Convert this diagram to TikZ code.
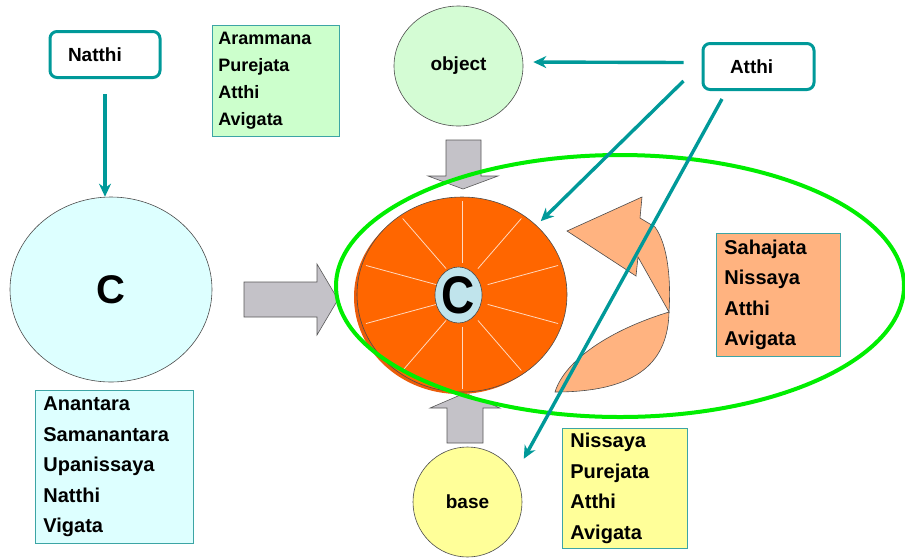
\documentclass[tikz,border=0pt]{standalone}
\usepackage{fontspec}
\setmainfont{Liberation Sans}
\usetikzlibrary{shapes.geometric,arrows.meta,positioning}

\definecolor{linkteal}{RGB}{0,153,153}
\definecolor{boxedge}{RGB}{60,165,165}
\definecolor{greenfill}{RGB}{204,255,204}
\definecolor{objfill}{RGB}{212,252,212}
\definecolor{cyanfill}{RGB}{221,255,255}
\definecolor{yellowfill}{RGB}{255,255,153}
\definecolor{peach}{RGB}{255,179,128}
\definecolor{wheelorange}{RGB}{255,102,0}
\definecolor{wheelshade}{RGB}{235,92,10}
\definecolor{hubfill}{RGB}{192,228,236}
\definecolor{blockgray}{RGB}{196,194,200}
\definecolor{ringgreen}{RGB}{0,238,0}

\begin{document}
\begin{tikzpicture}[x=1pt,y=-1pt,
        termbox/.style={draw=linkteal,line width=3pt,rounded corners=7pt,fill=white,
            align=left,minimum height=46pt,inner ysep=0pt,font=\bfseries\fontsize{19}{22}\selectfont},
        listbox/.style={draw=boxedge,line width=0.8pt,fill=#1,anchor=north west,align=left,
            inner xsep=8pt,inner ysep=0pt,font=\bfseries\fontsize{20}{30.5}\selectfont},
        bubble/.style={ellipse,draw=black!70,line width=0.6pt,inner sep=0pt,
            font=\bfseries\fontsize{19}{22}\selectfont},
        tealarrow/.style={draw=linkteal,line width=3.4pt,-{Stealth[length=13pt,width=12pt]}},
        block/.style={fill=blockgray,draw=black!65,line width=0.6pt},
        curl/.style={fill=peach,draw=black!70,line width=0.6pt}]
    \useasboundingbox (0,0) rectangle (905,558);

    % Block arrows
    \draw[block] (446,140) -- (481,140) -- (481,176) -- (498,176) -- (463,189) -- (428,176) -- (446,176) -- cycle;
    \draw[block] (244,282) -- (317,282) -- (317,264) -- (338,299.5) -- (317,335) -- (317,317) -- (244,317) -- cycle;
    \draw[block] (447,443) -- (483,443) -- (483,408) -- (500,408) -- (465,393) -- (430,408) -- (447,408) -- cycle;

    % Wheel
    \fill[wheelshade] (459,297) ellipse [x radius=105,y radius=97];
    \node[bubble,fill=wheelorange,minimum width=210pt,minimum height=195pt] (wheel) at (462,294.5) {};
    \begin{scope}[shift={(wheel.center)}]
        \foreach \a in {90,54,...,-234}
            \draw[white!75!wheelorange,line width=0.8pt] (\a:27 and 32) -- (\a:101 and 94);
    \end{scope}
    \node[bubble,fill=hubfill,minimum width=47pt,minimum height=56pt,font=\bfseries\fontsize{46}{46}\selectfont]
        (hub) at (458.5,295) {\scalebox{1}[1.15]{C}};

    % Curved arrow
    \draw[curl] (567,231) -- (642,197) -- (640,218) -- (655,227) .. controls (668,245) and (671,280) .. (669,312)
        -- (638,257) -- (636,276) -- cycle;
    \draw[curl] (669,312) .. controls (668,360) and (640,392) .. (555,392)
        .. controls (565,360) and (610,330) .. (669,312) -- cycle;

    % Circles
    \node[bubble,fill=cyanfill,minimum width=202pt,minimum height=185pt,font=\bfseries\fontsize{40}{40}\selectfont]
        (prior) at (111,289.5) {C};
    \node[bubble,fill=objfill,minimum width=129pt,minimum height=120pt] (object) at (458.5,66) {object};
    \node[bubble,fill=yellowfill,minimum width=109pt,minimum height=110pt] (base) at (467.5,502) {base};

    % Boxes
    \node[termbox,inner xsep=18pt,text width=74pt] (natthi) at (105,54.5) {Natthi};
    \node[termbox,inner xsep=27pt,text width=57pt] (atthi) at (758.5,66.5) {Atthi};
    \node[listbox=greenfill,inner xsep=6pt,text width=115pt,minimum height=111pt,
        font=\bfseries\fontsize{18}{27}\selectfont] (objconds) at (212,25) {Arammana\\Purejata\\Atthi\\Avigata};
    \node[listbox=cyanfill,text width=142pt,minimum height=153pt] (priorconds) at (35,390)
        {Anantara\\Samanantara\\Upanissaya\\Natthi\\Vigata};
    \node[listbox=peach,text width=108pt,minimum height=123pt] (coconds) at (716,233)
        {Sahajata\\Nissaya\\Atthi\\Avigata};
    \node[listbox=yellowfill,text width=109pt,minimum height=120pt] (baseconds) at (562,428)
        {Nissaya\\Purejata\\Atthi\\Avigata};

    % Ring
    \draw[ringgreen,line width=4pt] (620,286) ellipse [x radius=284,y radius=131];

    % Links
    \draw[tealarrow,shorten <=15pt] (natthi.south) -- (natthi.south |- prior.north);
    \draw[tealarrow,shorten >=10pt] ([xshift=-18pt,yshift=4pt]atthi.west) -- ([yshift=4pt]object.east);
    \draw[tealarrow,shorten >=6pt] ([xshift=-18pt,yshift=-14.5pt]atthi.west) -- (wheel.north east);
    \draw[tealarrow,shorten >=18pt] ([xshift=-36.5pt,yshift=-8pt]atthi.south) -- (base.30);
\end{tikzpicture}
\end{document}
